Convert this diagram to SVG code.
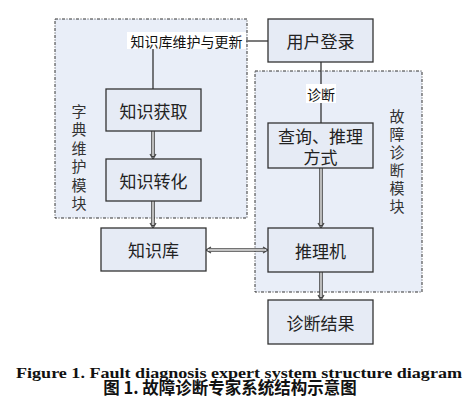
<svg xmlns="http://www.w3.org/2000/svg" width="468" height="415" viewBox="0 0 468 415">
<style>
.region{fill:#e9eef8;stroke:#333;stroke-width:1;stroke-dasharray:3,1.5,1,1.5}
.box{fill:#e6ebf5;stroke:#333;stroke-width:1.3}
.t{font-family:"Noto Sans CJK SC","Noto Sans",sans-serif;font-size:17px;fill:#222;text-anchor:middle;dominant-baseline:central}
.side{font-family:"Noto Sans CJK SC",sans-serif;font-size:15px;fill:#333;text-anchor:middle;dominant-baseline:central}
.lbl{font-family:"Noto Sans CJK SC",sans-serif;font-size:14px;fill:#111;text-anchor:middle;dominant-baseline:central}
.ln{stroke:#333;stroke-width:1.3;fill:none}
.dbo{stroke:#444;stroke-width:3.6;fill:none}
.dbi{stroke:#eee;stroke-width:1.4;fill:none}
.hd{fill:none;stroke:#444;stroke-width:1.2}
</style>
<rect width="468" height="415" fill="#fff"/>
<g id="region-dict">
<rect class="region" x="55" y="19" width="192" height="199"/>
<text class="side" x="79" y="110">字</text>
<text class="side" x="79" y="128.5">典</text>
<text class="side" x="79" y="147">维</text>
<text class="side" x="79" y="165.5">护</text>
<text class="side" x="79" y="184">模</text>
<text class="side" x="79" y="202.5">块</text>
</g>
<g id="region-fault">
<rect class="region" x="255" y="71" width="167" height="221"/>
<text class="side" x="397" y="115">故</text>
<text class="side" x="397" y="133">障</text>
<text class="side" x="397" y="151">诊</text>
<text class="side" x="397" y="169">断</text>
<text class="side" x="397" y="187">模</text>
<text class="side" x="397" y="205">块</text>
</g>
<g id="connectors">
<path class="ln" d="M246,41 H268"/>
<path class="ln" d="M153,48 V89"/>
<path class="ln" d="M321,62 V123"/>
<path class="dbo" d="M153,131 V157"/>
<path class="dbi" d="M153,131 V156"/>
<path class="hd" d="M150,154 L153,159 L156,154"/>
<path class="dbo" d="M153,201 V226"/>
<path class="dbi" d="M153,201 V225"/>
<path class="hd" d="M150,223 L153,228 L156,223"/>
<path class="dbo" d="M321,168 V226"/>
<path class="dbi" d="M321,168 V225"/>
<path class="hd" d="M318,223 L321,228 L324,223"/>
<path class="dbo" d="M321,272 V298"/>
<path class="dbi" d="M321,272 V297"/>
<path class="hd" d="M318,295 L321,300 L324,295"/>
<path class="dbo" d="M209,250 H265"/>
<path class="dbi" d="M209,250 H265"/>
<path class="hd" d="M211,247 L206,250 L211,253"/>
<path class="hd" d="M263,247 L268,250 L263,253"/>
<rect x="127" y="32" width="119" height="17" fill="#fff"/>
<text class="lbl" x="186.5" y="40.5">知识库维护与更新</text>
<rect x="306" y="84" width="30" height="19" fill="#fff"/>
<text class="lbl" x="321" y="93.5">诊断</text>
</g>
<g id="node-login"><rect class="box" x="268" y="19" width="105" height="43"/><text class="t" x="320.5" y="40.5">用户登录</text></g>
<g id="node-acquire"><rect class="box" x="106" y="89" width="95" height="42"/><text class="t" x="153.5" y="110">知识获取</text></g>
<g id="node-transform"><rect class="box" x="106" y="159" width="95" height="42"/><text class="t" x="153.5" y="180">知识转化</text></g>
<g id="node-query"><rect class="box" x="268" y="123" width="105" height="45"/><text class="t" x="320.5" y="135">查询、推理</text><text class="t" x="320.5" y="156.5">方式</text></g>
<g id="node-kb"><rect class="box" x="101" y="228" width="105" height="43"/><text class="t" x="153.5" y="249.5">知识库</text></g>
<g id="node-engine"><rect class="box" x="268" y="228" width="105" height="44"/><text class="t" x="320.5" y="250">推理机</text></g>
<g id="node-result"><rect class="box" x="268" y="300" width="105" height="44"/><text class="t" x="320.5" y="322">诊断结果</text></g>
<g id="caption">
<text x="239" y="378" font-family="Liberation Serif,serif" font-weight="bold" font-size="15.5" fill="#111" text-anchor="middle" textLength="446" lengthAdjust="spacingAndGlyphs">Figure 1. Fault diagnosis expert system structure diagram</text>
<text x="230" y="394" font-family="Noto Sans CJK SC,sans-serif" font-weight="bold" font-size="16.5" fill="#111" text-anchor="middle">图 1. 故障诊断专家系统结构示意图</text>
</g>
</svg>
